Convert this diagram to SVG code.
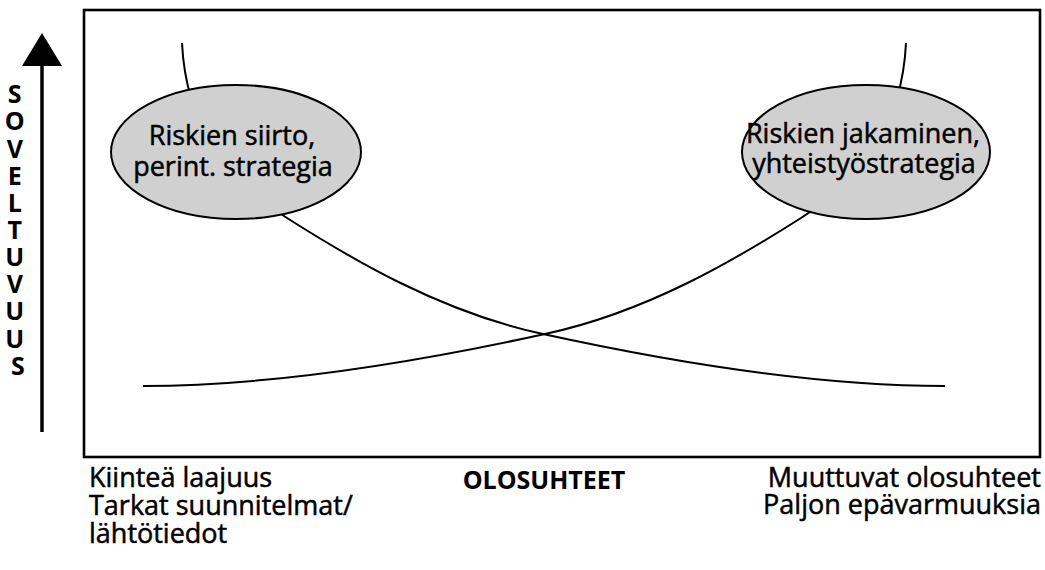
<svg xmlns="http://www.w3.org/2000/svg" width="1045" height="570" viewBox="0 0 1045 570">
  <style>
    .frame { fill: none; stroke: #000; stroke-width: 2.6; }
    .curve { fill: none; stroke: #000; stroke-width: 2; }
    .bubble { fill: #d0d0d0; stroke: #000; stroke-width: 2; }
    .label { font-family: "Open Sans", "Noto Sans", sans-serif; font-size: 27px; fill: #000; stroke: #000; stroke-width: 0.5; }
    .title { font-family: "Open Sans", "Noto Sans", sans-serif; font-size: 25px; font-weight: bold; fill: #000; text-anchor: middle; }
    .axis { font-family: "Open Sans", "Noto Sans", sans-serif; font-size: 25px; font-weight: bold; fill: #000; text-anchor: middle; }
    .mid { text-anchor: middle; }
    .end { text-anchor: end; }
  </style>

  <rect width="1045" height="570" fill="#fff"/>

  <!-- vertical axis: arrow and letters -->
  <g id="axis-y">
    <line x1="42" y1="60" x2="42" y2="432" stroke="#000" stroke-width="3.5"/>
    <polygon points="42,33 62,66 22,66" fill="#000"/>
    <text class="axis" x="18">
      <tspan x="18" y="103">S</tspan>
      <tspan x="18" y="130">O</tspan>
      <tspan x="18" y="158">V</tspan>
      <tspan x="18" y="185">E</tspan>
      <tspan x="18" y="212">L</tspan>
      <tspan x="18" y="239">T</tspan>
      <tspan x="18" y="266">U</tspan>
      <tspan x="18" y="293">V</tspan>
      <tspan x="18" y="320">U</tspan>
      <tspan x="18" y="348">U</tspan>
      <tspan x="18" y="375">S</tspan>
    </text>
  </g>

  <!-- plot frame -->
  <rect id="frame" class="frame" x="84" y="10" width="956" height="447"/>

  <!-- suitability curves -->
  <g id="connectors">
    <path class="curve" d="M182,43 C186,125 225,178 287,218 C350,258 440,312 543,334 C680,364 820,386 945,386"/>
    <path class="curve" d="M906,43 C902,125 863,178 801,218 C738,258 648,312 545,334 C408,364 268,386 143,386"/>
  </g>

  <g id="node-transfer">
    <ellipse class="bubble" cx="236" cy="152" rx="125" ry="67"/>
    <text class="label mid" x="232" y="145">Riskien siirto,</text>
    <text class="label mid" x="233" y="176">perint. strategia</text>
  </g>

  <g id="node-sharing">
    <ellipse class="bubble" cx="866" cy="152" rx="124" ry="67"/>
    <text class="label mid" x="863" y="143">Riskien jakaminen,</text>
    <text class="label mid" x="864" y="173">yhteistyöstrategia</text>
  </g>

  <!-- horizontal axis captions -->
  <g id="caption-left">
    <text class="label" x="89" y="487">Kiinteä laajuus</text>
    <text class="label" x="89" y="515">Tarkat suunnitelmat/</text>
    <text class="label" x="89" y="543">lähtötiedot</text>
  </g>
  <g id="caption-center">
    <text class="title" x="544" y="489">OLOSUHTEET</text>
  </g>
  <g id="caption-right">
    <text class="label end" x="1041" y="487">Muuttuvat olosuhteet</text>
    <text class="label end" x="1041" y="514">Paljon epävarmuuksia</text>
  </g>
</svg>
